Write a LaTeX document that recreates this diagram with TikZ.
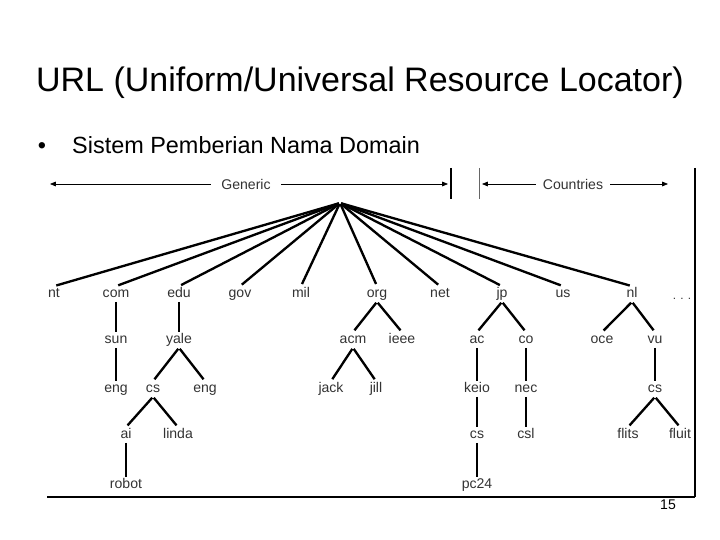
\documentclass[tikz,border=0pt]{standalone}
\usepackage{fontspec}
\setmainfont{Liberation Sans}
\usetikzlibrary{arrows.meta}

\begin{document}
\begin{tikzpicture}[x=0.03cm, y=-0.03cm,
    simpul/.style={font=\fontsize{12}{13}\selectfont, text=black!80, inner sep=1.5pt,
                   text height=8pt, text depth=2pt},
    atas/.style={font=\fontsize{12}{14}\selectfont, text=black!80, inner ysep=1pt},
    cabang/.style={line width=2pt, shorten >=2pt, shorten <=1pt},
    tegak/.style={line width=1pt},
    panah/.style={-{Triangle[length=5pt,width=4pt]}, line width=0.7pt}
  ]
  \useasboundingbox (0,0) rectangle (720,540);

  \node[font=\fontsize{29}{34}\selectfont, anchor=base] (judul) at (360,92)
    {URL (Uniform/Universal Resource Locator)};
  \node[font=\fontsize{20}{24}\selectfont, anchor=base] (titik) at (42,154) {•};
  \node[font=\fontsize{20}{24}\selectfont, anchor=base west, inner sep=0pt] (poin) at (72,154)
    {Sistem Pemberian Nama Domain};

  % Generic / Countries
  \node[atas, inner xsep=9pt] (generic) at (246,184) {Generic};
  \node[atas, inner xsep=6pt] (countries) at (573,184) {Countries};
  \coordinate (genKiri) at (50,184);
  \coordinate (genKanan) at (448,184);
  \coordinate (negKiri) at (482,184);
  \coordinate (negKanan) at (668,184);
  \draw[panah] (generic.west) -- (genKiri);
  \draw[panah] (generic.east) -- (genKanan);
  \draw[panah] (countries.west) -- (negKiri);
  \draw[panah] (countries.east) -- (negKanan);
  \draw[line width=1.8pt] (451,168) -- (451,199);
  \draw[line width=0.6pt, black!60] (479,168) -- (479,199);

  % bingkai
  \draw[line width=1.2pt] (47,497) -- (695,497);
  \draw[line width=1.6pt] (695,168) -- (695,497);

  % akar dan domain tingkat atas
  \coordinate (akar) at (340,203);
  \node[simpul] (nt) at (54,294) {nt};
  \node[simpul] (com) at (116,294) {com};
  \node[simpul] (edu) at (179,294) {edu};
  \node[simpul] (gov) at (240,294) {gov};
  \node[simpul] (mil) at (301,294) {mil};
  \node[simpul] (org) at (377,294) {org};
  \node[simpul] (net) at (440,294) {net};
  \node[simpul] (jp) at (502,294) {jp};
  \node[simpul] (us) at (563,294) {us};
  \node[simpul] (nl) at (632,294) {nl};
  \node[simpul, font=\fontsize{10}{12}\selectfont] (lain) at (682,296) {. . .};

  % tingkat 2
  \node[simpul] (sun) at (116,340) {sun};
  \node[simpul] (yale) at (179,340) {yale};
  \node[simpul] (acm) at (353,340) {acm};
  \node[simpul] (ieee) at (402,340) {ieee};
  \node[simpul] (ac) at (477,340) {ac};
  \node[simpul] (co) at (526,340) {co};
  \node[simpul] (oce) at (602,340) {oce};
  \node[simpul] (vu) at (655,340) {vu};

  % tingkat 3
  \node[simpul] (engSun) at (116,389) {eng};
  \node[simpul] (csYale) at (153,389) {cs};
  \node[simpul] (engYale) at (205,389) {eng};
  \node[simpul] (jack) at (331,389) {jack};
  \node[simpul] (jill) at (376,389) {jill};
  \node[simpul] (keio) at (477,389) {keio};
  \node[simpul] (nec) at (526,389) {nec};
  \node[simpul] (csVu) at (655,389) {cs};

  % tingkat 4 dan 5
  \node[simpul] (ai) at (126,435) {ai};
  \node[simpul] (linda) at (178,435) {linda};
  \node[simpul] (csKeio) at (477,435) {cs};
  \node[simpul] (csl) at (526,435) {csl};
  \node[simpul] (flits) at (628,435) {flits};
  \node[simpul] (fluit) at (680,435) {fluit};
  \node[simpul] (robot) at (126,485) {robot};
  \node[simpul] (pc24) at (477,485) {pc24};

  \foreach \n in {nt,com,edu,gov,mil,org,net,jp,us,nl}
    \draw[cabang] (akar) -- (\n.north);

  \foreach \a/\b in {yale/csYale, yale/engYale, csYale/ai, csYale/linda,
                     org/acm, org/ieee, acm/jack, acm/jill,
                     jp/ac, jp/co, nl/oce, nl/vu, csVu/flits, csVu/fluit}
    \draw[cabang] (\a.south) -- (\b.north);

  \foreach \a/\b in {com/sun, sun/engSun, edu/yale, ai/robot, ac/keio, keio/csKeio,
                     csKeio/pc24, co/nec, nec/csl, vu/csVu}
    \draw[tegak] (\a.south) -- (\b.north);

  \node[font=\fontsize{12}{14}\selectfont] (halaman) at (668,505) {15};
\end{tikzpicture}
\end{document}
